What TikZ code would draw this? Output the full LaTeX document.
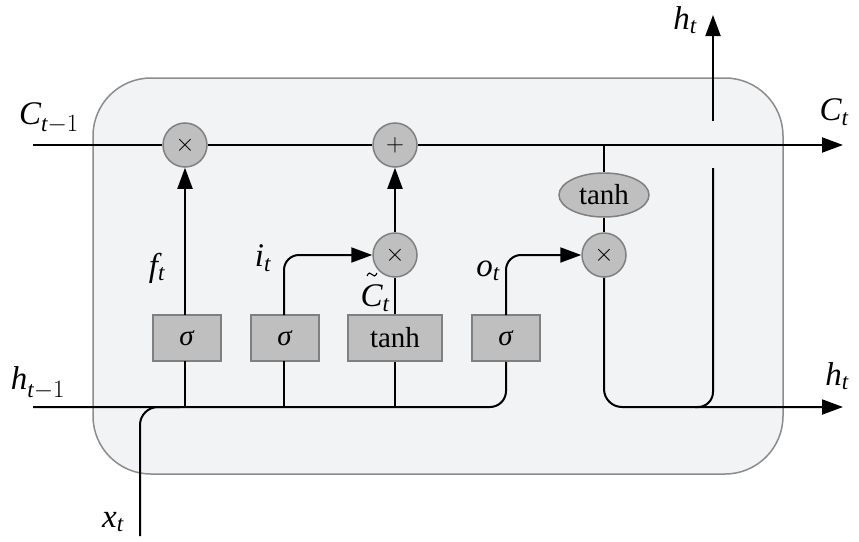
\documentclass[tikz,border=0pt]{standalone}
\usepackage{fontspec}
\setmainfont{Liberation Serif}
\usetikzlibrary{arrows.meta,shapes.geometric}
\definecolor{cellfill}{HTML}{F2F3F5}
\definecolor{cellline}{HTML}{8C8C8C}
\definecolor{opfill}{HTML}{BFBFBF}
\definecolor{opline}{HTML}{808080}
\begin{document}
\begin{tikzpicture}[x=1pt,y=-1pt,
  line width=2pt,
  >={Triangle[length=21pt,width=15pt]},
  op/.style={circle,draw=opline,fill=opfill,line width=1.5pt,minimum size=44pt,inner sep=0pt,font=\fontsize{24}{24}\selectfont},
  gate/.style={rectangle,draw=opline,fill=opfill,line width=1.5pt,minimum width=68pt,minimum height=46pt,inner sep=0pt,font=\fontsize{29}{30}\selectfont},
  oval/.style={ellipse,draw=opline,fill=opfill,line width=1.5pt,minimum width=90pt,minimum height=44pt,inner sep=0pt,font=\fontsize{29}{30}\selectfont},
  lbl/.style={inner sep=0pt,font=\fontsize{33}{34}\selectfont}
]
\useasboundingbox (0,0) rectangle (859,541);
% cell
\draw[draw=cellline,fill=cellfill,line width=1.5pt,rounded corners=58pt] (93,78) rectangle (783,474);

% operators
\node[op] (m1) at (185,145) {$\times$};
\node[op] (a1) at (395,145) {$+$};
\node[op] (m2) at (395,255) {$\times$};
\node[op] (m3) at (604,255) {$\times$};

% gates
\node[gate] (b1) at (187,338) {\textit{σ}};
\node[gate] (b2) at (285,338) {\textit{σ}};
\node[gate,minimum width=94pt] (b3) at (395,338) {tanh};
\node[gate] (b4) at (506,338) {\textit{σ}};

% coordinates
\coordinate (cin) at (33,145);
\coordinate (cout) at (843,145);
\coordinate (ctap) at (604,145);
\coordinate (hin) at (33,407);
\coordinate (hout) at (843,407);
\coordinate (xin) at (140,536);
\coordinate (htop) at (713,15);

% cell state line
\draw (cin) -- (m1);
\draw (m1) -- (a1);
\draw[->] (a1) -- (cout);

% gate outputs
\draw[->] (185,315) -- (m1);
\draw[->,rounded corners=15pt] (284,315) -- (284,255) -- (m2);
\draw (b3) -- (m2);
\draw[->] (m2) -- (a1);
\draw[->,rounded corners=15pt] (506,315) -- (506,255) -- (m3);

% input line
\draw[rounded corners=16pt] (hin) -- (506,407) -- (b4.south);
\draw[rounded corners=18pt] (xin) -- (140,407) -- (180,407);
\draw (185,407) -- (185,361);
\draw (284,407) -- (284,361);
\draw (395,407) -- (b3.south);

% output
\node[oval] (t2) at (604,195) {tanh};
\draw (ctap) -- (t2);
\draw (t2) -- (m3);
\draw[->,rounded corners=18pt] (m3) -- (604,407) -- (hout);
\draw[rounded corners=15pt] (695,407) -- (713,407) -- (713,168);
\draw[->] (713,121) -- (htop);

% labels
\node[lbl] at (49,118) {$\mathit{C}_{\mathit{t}-1}$};
\node[lbl] at (834,112) {$\mathit{C}_{\mathit{t}}$};
\node[lbl] at (685,20) {$\mathit{h}_{\mathit{t}}$};
\node[lbl] at (157,268) {$\mathit{f}_{\mathit{t}}$};
\node[lbl] at (263,258) {$\mathit{i}_{\mathit{t}}$};
\node[lbl] (ctl) at (375,298) {$\mathit{C}_{\mathit{t}}$};
\draw[line width=1.1pt] (367,276) sin (369.5,273) cos (372,274.5) sin (374.5,276) cos (377,273);
\node[lbl] at (488,271) {$\mathit{o}_{\mathit{t}}$};
\node[lbl] at (38,383) {$\mathit{h}_{\mathit{t}-1}$};
\node[lbl] at (837,376) {$\mathit{h}_{\mathit{t}}$};
\node[lbl] at (113,522) {$\mathit{x}_{\mathit{t}}$};
\end{tikzpicture}
\end{document}
